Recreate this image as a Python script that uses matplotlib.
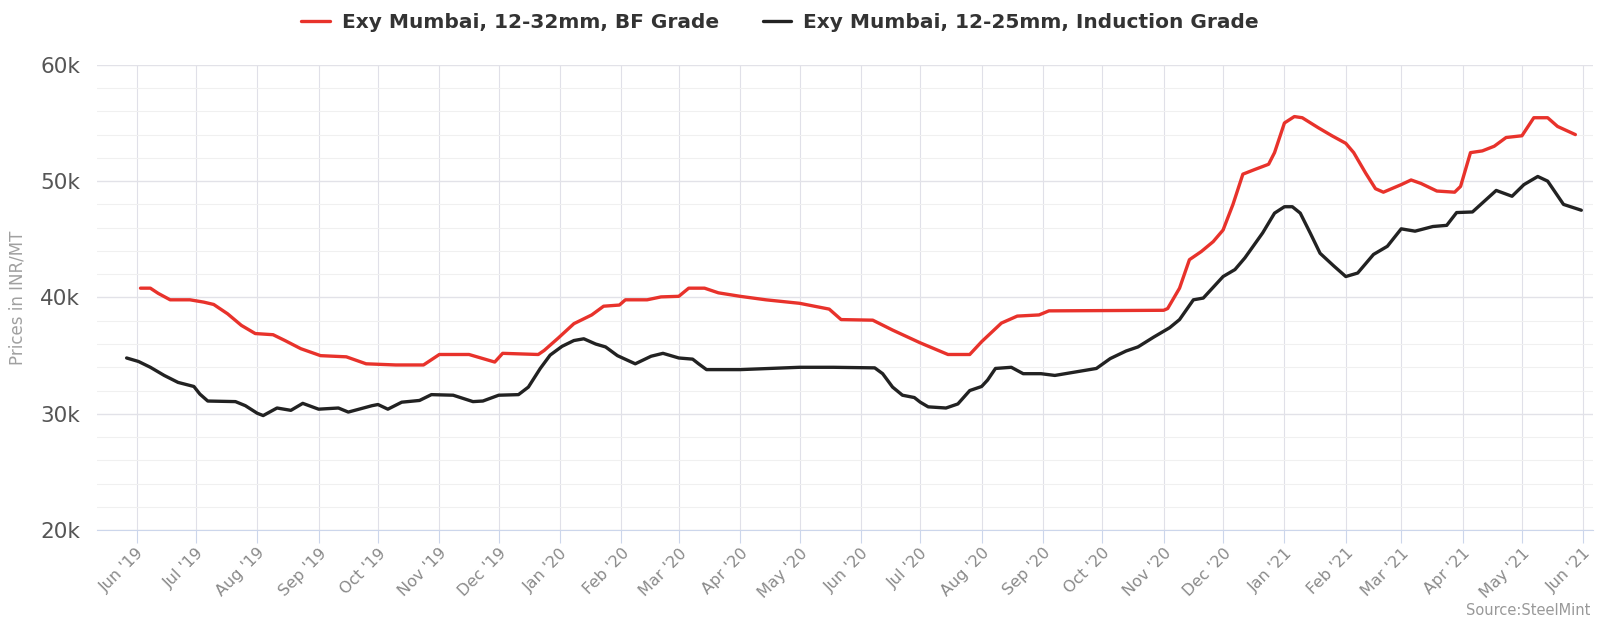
import pandas as pd
import matplotlib
matplotlib.use("Agg")
import matplotlib.pyplot as plt
import matplotlib.dates as mdates
from matplotlib.ticker import MultipleLocator, FuncFormatter

# Exy Mumbai, 12-32mm, BF Grade (INR/MT, thousands)
bf_dates = [
    "2019-06-03", "2019-06-08", "2019-06-12", "2019-06-18", "2019-06-28", "2019-07-05",
    "2019-07-10", "2019-07-17", "2019-07-24", "2019-07-31", "2019-08-09", "2019-08-15",
    "2019-08-23", "2019-09-02", "2019-09-15", "2019-09-25", "2019-10-10", "2019-10-24",
    "2019-11-01", "2019-11-16", "2019-11-29", "2019-12-03", "2019-12-21", "2019-12-24",
    "2019-12-31", "2020-01-08", "2020-01-17", "2020-01-23", "2020-01-31", "2020-02-03",
    "2020-02-14", "2020-02-21", "2020-03-01", "2020-03-06", "2020-03-14", "2020-03-21",
    "2020-04-01", "2020-04-14", "2020-05-01", "2020-05-16", "2020-05-22", "2020-06-07",
    "2020-06-17", "2020-07-01", "2020-07-15", "2020-07-26", "2020-08-01", "2020-08-11",
    "2020-08-19", "2020-08-30", "2020-09-04", "2020-11-01", "2020-11-03", "2020-11-09",
    "2020-11-14", "2020-11-20", "2020-11-26", "2020-12-01", "2020-12-06", "2020-12-11",
    "2020-12-17", "2020-12-24", "2020-12-27", "2021-01-01", "2021-01-06", "2021-01-10",
    "2021-01-18", "2021-01-25", "2021-02-01", "2021-02-05", "2021-02-11", "2021-02-16",
    "2021-02-20", "2021-03-01", "2021-03-06", "2021-03-11", "2021-03-19", "2021-03-28",
    "2021-03-31", "2021-04-05", "2021-04-11", "2021-04-17", "2021-04-23", "2021-05-01",
    "2021-05-07", "2021-05-14", "2021-05-19", "2021-05-28",
]
bf_values = [
    40.8, 40.8, 40.35, 39.8, 39.8, 39.6,
    39.4, 38.6, 37.6, 36.9, 36.8, 36.3,
    35.6, 35.0, 34.9, 34.3, 34.2, 34.2,
    35.1, 35.1, 34.45, 35.2, 35.1, 35.45,
    36.5, 37.75, 38.5, 39.25, 39.35, 39.8,
    39.8, 40.05, 40.1, 40.8, 40.8, 40.4,
    40.1, 39.8, 39.5, 39.0, 38.1, 38.05,
    37.2, 36.1, 35.1, 35.1, 36.2, 37.8,
    38.4, 38.5, 38.85, 38.9, 39.05, 40.8,
    43.25, 43.95, 44.8, 45.8, 48.0, 50.6,
    51.0, 51.45, 52.45, 55.0, 55.55, 55.45,
    54.6, 53.9, 53.25, 52.45, 50.7, 49.35,
    49.05, 49.7, 50.1, 49.8, 49.15, 49.05,
    49.55, 52.45, 52.6, 53.0, 53.75, 53.9,
    55.45, 55.45, 54.7, 54.0,
]

# Exy Mumbai, 12-25mm, Induction Grade (INR/MT, thousands)
ind_dates = [
    "2019-05-27", "2019-06-02", "2019-06-08", "2019-06-15", "2019-06-22", "2019-06-30",
    "2019-07-03", "2019-07-07", "2019-07-21", "2019-07-26", "2019-08-01", "2019-08-04",
    "2019-08-11", "2019-08-18", "2019-08-24", "2019-09-01", "2019-09-11", "2019-09-16",
    "2019-09-28", "2019-10-01", "2019-10-06", "2019-10-13", "2019-10-22", "2019-10-28",
    "2019-11-08", "2019-11-18", "2019-11-23", "2019-12-01", "2019-12-11", "2019-12-16",
    "2019-12-22", "2019-12-27", "2020-01-02", "2020-01-08", "2020-01-13", "2020-01-19",
    "2020-01-24", "2020-01-30", "2020-02-08", "2020-02-16", "2020-02-22", "2020-03-01",
    "2020-03-08", "2020-03-11", "2020-03-15", "2020-04-01", "2020-05-01", "2020-05-18",
    "2020-06-08", "2020-06-12", "2020-06-17", "2020-06-22", "2020-06-28", "2020-07-01",
    "2020-07-05", "2020-07-14", "2020-07-20", "2020-07-26", "2020-08-01", "2020-08-04",
    "2020-08-08", "2020-08-16", "2020-08-22", "2020-08-31", "2020-09-07", "2020-09-21",
    "2020-09-28", "2020-10-05", "2020-10-13", "2020-10-19", "2020-10-27", "2020-11-04",
    "2020-11-09", "2020-11-16", "2020-11-21", "2020-12-01", "2020-12-07", "2020-12-12",
    "2020-12-21", "2020-12-27", "2021-01-01", "2021-01-05", "2021-01-09", "2021-01-14",
    "2021-01-19", "2021-01-26", "2021-02-01", "2021-02-07", "2021-02-15", "2021-02-22",
    "2021-03-01", "2021-03-08", "2021-03-17", "2021-03-24", "2021-03-29", "2021-04-06",
    "2021-04-18", "2021-04-26", "2021-05-02", "2021-05-09", "2021-05-14", "2021-05-22",
    "2021-05-31",
]
ind_values = [
    34.8, 34.5, 34.0, 33.3, 32.7, 32.35,
    31.7, 31.1, 31.05, 30.7, 30.05, 29.85,
    30.5, 30.3, 30.9, 30.4, 30.5, 30.15,
    30.7, 30.8, 30.4, 31.0, 31.15, 31.65,
    31.6, 31.05, 31.1, 31.6, 31.65, 32.3,
    33.9, 35.05, 35.8, 36.3, 36.45, 36.0,
    35.75, 35.0, 34.3, 34.95, 35.2, 34.8,
    34.7, 34.3, 33.8, 33.8, 34.0, 34.0,
    33.95, 33.45, 32.3, 31.6, 31.4, 31.0,
    30.6, 30.5, 30.85, 32.0, 32.35, 32.9,
    33.9, 34.0, 33.45, 33.45, 33.3, 33.7,
    33.9, 34.75, 35.4, 35.75, 36.6, 37.4,
    38.1, 39.8, 39.95, 41.8, 42.4, 43.4,
    45.55, 47.25, 47.8, 47.8, 47.25, 45.55,
    43.8, 42.7, 41.8, 42.1, 43.7, 44.4,
    45.9, 45.7, 46.1, 46.2, 47.3, 47.35,
    49.2, 48.7, 49.7, 50.4, 50.0, 48.0,
    47.5,
]

series_names = ["Exy Mumbai, 12-32mm, BF Grade", "Exy Mumbai, 12-25mm, Induction Grade"]
series_colors = ["#e8322b", "#222222"]

plt.rcParams["font.family"] = ["DejaVu Sans"]

fig = plt.figure(figsize=(16.02, 6.23), dpi=100)
ax = fig.add_axes([0.0605, 0.149, 0.934, 0.747])

for dates, vals, name, col in [(bf_dates, bf_values, series_names[0], series_colors[0]),
                               (ind_dates, ind_values, series_names[1], series_colors[1])]:
    ax.plot(pd.to_datetime(dates), vals, color=col, lw=2.4, label=name,
            solid_joinstyle="round", solid_capstyle="round")

ax.set_ylim(20, 60)
ax.set_xlim(pd.Timestamp("2019-05-12"), pd.Timestamp("2021-06-06"))

ax.yaxis.set_major_locator(MultipleLocator(10))
ax.yaxis.set_minor_locator(MultipleLocator(2))
ax.yaxis.set_major_formatter(FuncFormatter(lambda v, p: f"{int(v)}k"))
ax.xaxis.set_major_locator(mdates.MonthLocator())
ax.xaxis.set_major_formatter(mdates.DateFormatter("%b '%y"))

ax.grid(True, which="major", axis="y", color="#e2e2e8", lw=1.0)
ax.grid(True, which="minor", axis="y", color="#f0f0f0", lw=0.8)
ax.grid(True, which="major", axis="x", color="#e0e0e8", lw=0.8)
ax.set_axisbelow(True)

for s in ["top", "right", "left"]:
    ax.spines[s].set_visible(False)
ax.spines["bottom"].set_color("#ccd6eb")

ax.tick_params(axis="y", which="both", length=0, pad=12, labelsize=15.5, labelcolor="#555555")
ax.tick_params(axis="x", which="major", length=9, color="#ccd6eb", labelsize=11.5,
               labelcolor="#8a8a8a", pad=2)
for lbl in ax.get_xticklabels():
    lbl.set_rotation(45)
    lbl.set_ha("right")
    lbl.set_rotation_mode("anchor")

ax.set_ylabel("Prices in INR/MT", fontsize=12, color="#a0a0a0", labelpad=10)

leg = fig.legend(loc="upper center", bbox_to_anchor=(0.487, 1.008), ncol=2, frameon=False,
                 handlelength=1.4, columnspacing=2.2, handletextpad=0.6,
                 prop={"weight": "bold", "size": 14.5})
for t in leg.get_texts():
    t.set_color("#333333")

fig.text(0.993, 0.008, "Source:SteelMint", ha="right", va="bottom", fontsize=10.5,
         color="#999999")

fig.savefig("out.png", dpi=100)
